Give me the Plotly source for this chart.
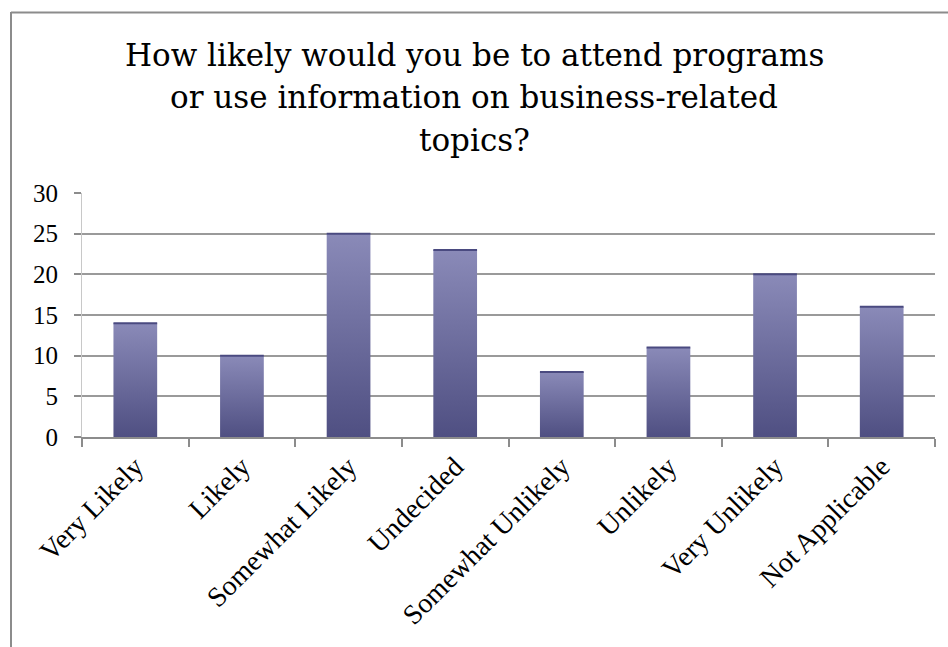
import plotly.graph_objects as go

# Survey responses
categories = ["Very Likely", "Likely", "Somewhat Likely", "Undecided",
              "Somewhat Unlikely", "Unlikely", "Very Unlikely", "Not Applicable"]
counts = [14, 10, 25, 23, 8, 11, 20, 16]
y_ticks = [0, 5, 10, 15, 20, 25, 30]

title_lines = ["How likely would you be to attend programs",
               "or use information on business-related",
               "topics?"]

W, H = 948, 647
M_L, M_R, M_T, M_B = 82, 13, 193, 210
plot_w = W - M_L - M_R
plot_h = H - M_T - M_B
BAR_W = 0.41

def px_to_paper_x(px):
    return (px - M_L) / plot_w

def px_to_paper_y(py):
    return (H - M_B - py) / plot_h

serif = "Liberation Serif, Times New Roman, serif"
title_font = "DejaVu Serif, Georgia, serif"
grey = "#8c8c8c"

fig = go.Figure()

# one filled polygon per bar so each can carry a vertical colour gradient
for i, (cat, v) in enumerate(zip(categories, counts)):
    x0, x1 = i - BAR_W / 2, i + BAR_W / 2
    fig.add_trace(go.Scatter(
        x=[x0, x1, x1, x0, x0],
        y=[0, 0, v, v, 0],
        mode="lines",
        line=dict(width=0, color="rgba(0,0,0,0)"),
        fill="toself",
        fillgradient=dict(
            type="vertical",
            colorscale=[[0, "#4f4f82"], [1, "#8a8ab8"]],
        ),
        name=cat,
        hoveron="fills",
        text=f"{cat}: {v}",
        hoverinfo="text",
    ))
    # darker cap along the top edge of the bar
    fig.add_trace(go.Scatter(
        x=[x0, x1], y=[v, v], mode="lines",
        line=dict(color="#4a4a80", width=2),
        hoverinfo="skip",
    ))

annotations = []
line_centres = [55, 97, 140]
for txt, yc in zip(title_lines, line_centres):
    annotations.append(dict(
        text=txt, xref="paper", yref="paper",
        x=px_to_paper_x(474), y=px_to_paper_y(yc),
        xanchor="center", yanchor="middle", showarrow=False,
        font=dict(family=title_font, size=31, color="black"),
    ))

fig.update_layout(
    width=W, height=H,
    margin=dict(l=M_L, r=M_R, t=M_T, b=M_B),
    paper_bgcolor="white",
    plot_bgcolor="white",
    showlegend=False,
    annotations=annotations,
    xaxis=dict(
        range=[-0.5, len(categories) - 0.5],
        tickvals=list(range(len(categories))),
        ticktext=categories,
        tickangle=-45,
        ticks="",
        minor=dict(tick0=0.5, dtick=1, ticks="outside", ticklen=8,
                   tickcolor=grey, tickwidth=2, showgrid=False),
        showline=True, linecolor=grey, linewidth=2,
        showgrid=False, zeroline=False,
        tickfont=dict(family=serif, size=28, color="black"),
        fixedrange=True,
    ),
    yaxis=dict(
        range=[0, 30],
        tickvals=y_ticks,
        ticks="outside", ticklen=7, tickcolor=grey, tickwidth=2,
        showline=True, linecolor="#c8c8c8", linewidth=1,
        showgrid=True, gridcolor="#9a9a9a", gridwidth=2,
        zeroline=False,
        ticklabelstandoff=11,
        tickfont=dict(family=serif, size=25, color="black"),
        fixedrange=True,
    ),
    shapes=[
        # chart frame (top and left edges visible)
        dict(type="line", xref="paper", yref="paper",
             x0=px_to_paper_x(11), x1=px_to_paper_x(W + 5),
             y0=px_to_paper_y(12.5), y1=px_to_paper_y(12.5),
             line=dict(color=grey, width=2)),
        dict(type="line", xref="paper", yref="paper",
             x0=px_to_paper_x(11), x1=px_to_paper_x(11),
             y0=px_to_paper_y(12), y1=px_to_paper_y(H + 5),
             line=dict(color=grey, width=2)),
    ],
)

fig.write_html("out.html")
